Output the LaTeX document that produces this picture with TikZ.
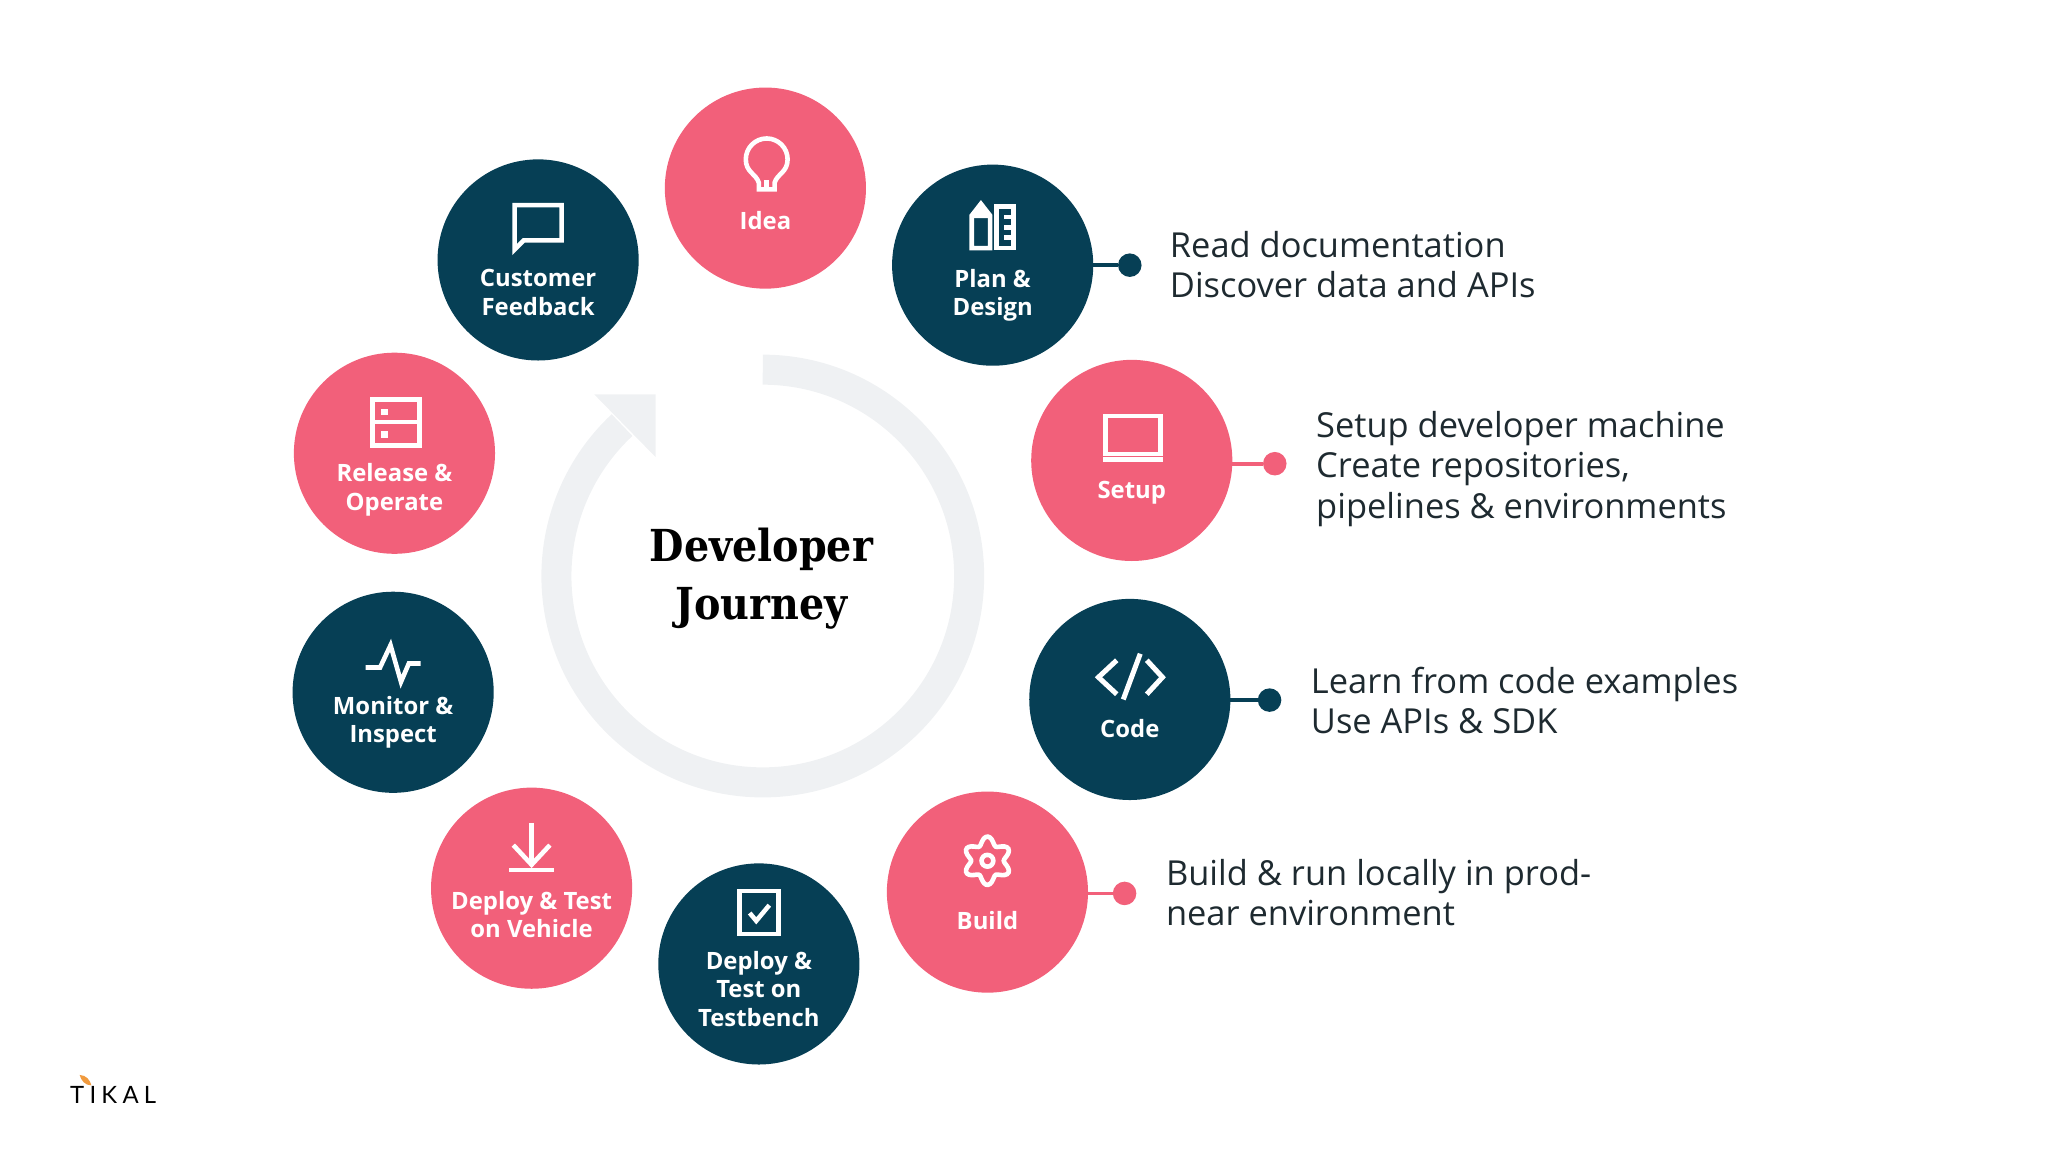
\documentclass[tikz,border=0pt]{standalone}
\usepackage{fontspec}
\setmainfont{Open Sans}
\newfontfamily\titlefont{DejaVu Serif Condensed}
\newfontfamily\logofont[LetterSpace=22]{Lato}
\usetikzlibrary{positioning,calc}
\definecolor{stepnavy}{HTML}{063F55}
\definecolor{steppink}{HTML}{F2607A}
\definecolor{ringgray}{HTML}{EFF1F3}
\definecolor{bodytext}{HTML}{1E2A30}
\definecolor{leaforange}{HTML}{F09A3E}
\tikzset{
  navystep/.style={circle,fill=stepnavy,minimum size=1.54cm,inner sep=0pt,outer sep=0pt},
  pinkstep/.style={circle,fill=steppink,minimum size=1.54cm,inner sep=0pt,outer sep=0pt},
  steplabel/.style={align=center,text=white,font=\fontsize{5.2}{6.2}\selectfont\bfseries,inner sep=0pt},
  sidetext/.style={anchor=west,align=left,text=bodytext,font=\fontsize{7.5}{8.8}\selectfont,inner sep=0pt},
  enddot/.style={circle,minimum size=0.18cm,inner sep=0pt,outer sep=0pt},
  icon/.style={draw=white,line width=1pt,line join=miter},
}
\begin{document}
\begin{tikzpicture}
\useasboundingbox (0,0) rectangle (15.68,-8.82);

% ring with arrow head
\coordinate (ringstart) at (5.84,-2.83);
\draw[ringgray,line width=0.23cm] (ringstart) arc[start angle=90,end angle=-227,radius=1.58];
\fill[ringgray] (4.55,-3.02) -- (5.02,-3.02) -- (5.02,-3.50) -- cycle;
\node[align=center,inner sep=0pt,font=\fontsize{9.6}{12.6}\selectfont\titlefont\bfseries] (title) at (5.83,-4.43) {Developer\\Journey};

% steps
\foreach \nm/\x/\y/\sty/\lab/\ty in {
  idea/5.86/-1.44/pinkstep/{Idea}/-1.69,
  customer/4.12/-1.99/navystep/{Customer\\Feedback}/-2.24,
  plan/7.60/-2.03/navystep/{Plan \&\\Design}/-2.26,
  setup/8.665/-3.525/pinkstep/{Setup}/-3.77,
  code/8.65/-5.355/navystep/{Code}/-5.58,
  build/7.56/-6.83/pinkstep/{Build}/-7.05,
  bench/5.81/-7.38/navystep/{Deploy \&\\Test on\\Testbench}/-7.57,
  vehicle/4.07/-6.80/pinkstep/{Deploy \& Test\\on Vehicle}/-7.00,
  monitor/3.01/-5.30/navystep/{Monitor \&\\Inspect}/-5.53,
  release/3.02/-3.47/pinkstep/{Release \&\\Operate}/-3.75}{
  \node[\sty] (\nm) at (\x,\y) {};
  \node[steplabel] (\nm text) at (\x,\ty) {\lab};
}

% icons
\begin{scope}[shift={(idea)},icon]
  \draw (-0.05,-0.01) -- (-0.05,0.04) .. controls (-0.07,0.11) and (-0.15,0.12) .. (-0.15,0.22)
    arc[start angle=180,end angle=0,radius=0.16]
    .. controls (0.17,0.12) and (0.09,0.11) .. (0.07,0.04) -- (0.07,-0.01) -- cycle;
  \draw (0.01,-0.01) -- (0.01,0.06);
\end{scope}
\begin{scope}[shift={(customer)},icon]
  \draw (-0.18,0.08) -- (-0.18,0.42) -- (0.18,0.42) -- (0.18,0.15) -- (-0.11,0.15) -- cycle;
\end{scope}
\begin{scope}[shift={(plan)},icon]
  \draw (-0.16,0.13) -- (-0.16,0.38) -- (-0.09,0.47) -- (-0.02,0.38) -- (-0.02,0.13) -- cycle;
  \fill[white,draw=none] (-0.17,0.36) -- (-0.09,0.49) -- (-0.01,0.36) -- cycle;
  \draw (0.03,0.13) rectangle (0.16,0.45);
  \foreach \t in {0.21,0.29,0.37}{\draw (0.09,\t) -- (0.16,\t);}
\end{scope}
\begin{scope}[shift={(release)},icon]
  \draw (-0.17,0.06) rectangle (0.19,0.41);
  \draw (-0.17,0.24) -- (0.19,0.24);
  \fill[white,draw=none] (-0.10,0.29) rectangle (-0.05,0.34);
  \fill[white,draw=none] (-0.10,0.12) rectangle (-0.05,0.17);
\end{scope}
\begin{scope}[shift={(setup)},icon]
  \draw (-0.20,0.05) rectangle (0.22,0.34);
  \fill[white,draw=none] (-0.22,-0.01) rectangle (0.24,0.03);
\end{scope}
\begin{scope}[shift={(code)},icon,line width=1.1pt]
  \draw (-0.10,0.30) -- (-0.24,0.17) -- (-0.10,0.04);
  \draw (0.08,0.35) -- (-0.05,0.00);
  \draw (0.13,0.30) -- (0.25,0.17) -- (0.13,0.04);
\end{scope}
\begin{scope}[shift={(build)},icon]
  \draw[smooth cycle,samples=73,domain=0:355,variable=\a]
    plot ({(0.155+0.03*cos(6*\a))*cos(\a+30)},{0.24+(0.155+0.03*cos(6*\a))*sin(\a+30)});
  \draw (0,0.24) circle[radius=0.045];
\end{scope}
\begin{scope}[shift={(bench)},icon]
  \draw (-0.15,0.23) rectangle (0.15,0.56);
  \draw (-0.07,0.39) -- (-0.02,0.33) -- (0.08,0.45);
\end{scope}
\begin{scope}[shift={(vehicle)},icon]
  \draw (0,0.50) -- (0,0.19);
  \draw (-0.14,0.33) -- (0,0.18) -- (0.14,0.33);
  \draw (-0.17,0.14) -- (0.17,0.14);
\end{scope}
\begin{scope}[shift={(monitor)},icon]
  \draw (-0.21,0.19) -- (-0.10,0.19) -- (-0.02,0.36) -- (0.06,0.08) -- (0.12,0.22) -- (0.21,0.22);
\end{scope}

% side notes
\node[enddot,fill=stepnavy] (plandot) at (8.65,-2.03) {};
\node[enddot,fill=steppink] (setupdot) at (9.76,-3.55) {};
\node[enddot,fill=stepnavy] (codedot) at (9.72,-5.36) {};
\node[enddot,fill=steppink] (builddot) at (8.61,-6.84) {};
\draw[stepnavy,line width=0.8pt] (plan) -- (plandot);
\draw[steppink,line width=0.8pt] (setupdot -| setup.east) -- (setupdot);
\draw[stepnavy,line width=0.8pt] (codedot -| code.east) -- (codedot);
\draw[steppink,line width=0.8pt] (builddot -| build.east) -- (builddot);
\node[sidetext] (plannote) at (8.95,-2.025) {Read documentation\\Discover data and APIs};
\node[sidetext] (setupnote) at (10.07,-3.59) {Setup developer machine\\Create repositories,\\pipelines \& environments};
\node[sidetext] (codenote) at (10.03,-5.365) {Learn from code examples\\Use APIs \& SDK};
\node[sidetext] (buildnote) at (8.92,-6.835) {Build \& run locally in prod-\\near environment};

% logo
\node[anchor=west,inner sep=0pt,text=black,font=\fontsize{5.2}{6}\logofont] (logo) at (0.53,-8.38) {TIKAL};
\fill[leaforange] (0.61,-8.23) .. controls (0.66,-8.23) and (0.69,-8.27) .. (0.70,-8.31)
  .. controls (0.65,-8.31) and (0.62,-8.27) .. (0.61,-8.23);
\end{tikzpicture}
\end{document}
